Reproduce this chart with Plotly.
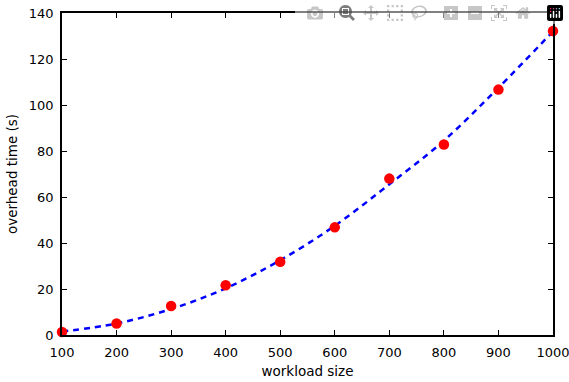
import plotly.graph_objects as go

workload = [100, 200, 300, 400, 500, 600, 700, 800, 900, 1000]
overhead = [1.3, 5.0, 12.6, 21.6, 31.8, 46.8, 68.0, 82.8, 106.7, 132.2]
fit_x = [100, 200, 300, 400, 500, 600, 700, 800, 900, 1000]
fit_y = [1.5, 5.0, 11.3, 20.3, 32.5, 47.5, 65.5, 84.5, 107.5, 132.0]
x_ticks = [100, 200, 300, 400, 500, 600, 700, 800, 900, 1000]
y_ticks = [0, 20, 40, 60, 80, 100, 120, 140]

fig = go.Figure()
fig.add_trace(go.Scatter(x=fit_x, y=fit_y, mode="lines",
                         line=dict(color="#0000ff", width=2.5, dash="6px,5px", shape="spline"),
                         hoverinfo="skip", showlegend=False))
fig.add_trace(go.Scatter(x=workload, y=overhead, mode="markers",
                         marker=dict(color="#ff0000", size=10.5, line=dict(width=0)),
                         cliponaxis=False, showlegend=False))

axis_common = dict(showline=True, linecolor="black", linewidth=1.5, mirror="ticks",
                   ticks="inside", ticklen=5, tickwidth=1.3, tickcolor="black",
                   showgrid=False, zeroline=False, automargin=False,
                   ticklabeloverflow="allow",
                   tickfont=dict(family="DejaVu Sans", size=13, color="black"))

fig.update_layout(
    width=569, height=382,
    margin=dict(l=62, r=16, t=13, b=47),
    paper_bgcolor="white", plot_bgcolor="white",
    xaxis=dict(range=[100, 1000], tickvals=x_ticks, ticktext=[str(v) for v in x_ticks],
               ticklabelstandoff=5,
               title=dict(text="workload size", standoff=7,
                          font=dict(family="DejaVu Sans", size=13.5, color="black")),
               **axis_common),
    yaxis=dict(range=[0, 140], tickvals=y_ticks,
               ticklabelstandoff=4,
               title=dict(text="overhead time (s)", standoff=8,
                          font=dict(family="DejaVu Sans", size=13.5, color="black")),
               **axis_common),
)

fig.write_html(
    "out.html",
    post_script="document.body.style.margin='0';document.body.style.overflow='hidden';",
)
